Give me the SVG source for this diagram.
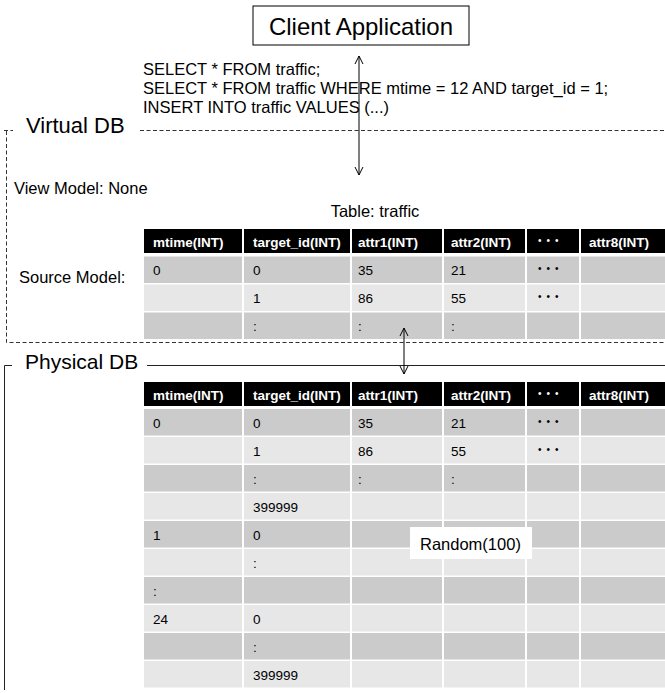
<svg xmlns="http://www.w3.org/2000/svg" width="665" height="693" viewBox="0 0 665 693">
  <defs>
    <marker id="open-head" viewBox="0 0 10 10" refX="9" refY="5" markerWidth="10" markerHeight="10" markerUnits="userSpaceOnUse" orient="auto-start-reverse">
      <path d="M1,1 L9,5 L1,9" fill="none" stroke="#000" stroke-width="1"/>
    </marker>
    <style>
      text { font-family: "Liberation Sans", Arial, sans-serif; fill: #000; }
      .title { font-size: 22px; }
      .label { font-size: 16.5px; }
      .hdr { font-size: 13.5px; font-weight: bold; fill: #fff; }
      .cell { font-size: 13.5px; }
      .dots { font-size: 10px; letter-spacing: 5px; }
      .dots-w { font-size: 10px; letter-spacing: 5px; fill: #fff; }
      .dash { fill: none; stroke: #333; stroke-width: 1; stroke-dasharray: 4 2.5; }
      .solid { fill: none; stroke: #222; stroke-width: 1; }
      .head { fill: #000; }
      .dark { fill: #cbcbcb; }
      .light { fill: #e7e7e7; }
      .sep { stroke: #fff; stroke-width: 2; }
      .conn { fill: none; stroke: #000; stroke-width: 1; marker-start: url(#open-head); marker-end: url(#open-head); }
    </style>
  </defs>

  <rect width="665" height="693" fill="#fff"/>

  <!-- client application box -->
  <g id="client-app">
    <rect x="253" y="6" width="216" height="39" fill="#fff" stroke="#000" stroke-width="1"/>
    <text x="361" y="35" font-size="24" text-anchor="middle">Client Application</text>
  </g>

  <!-- queries issued by the client -->
  <g id="queries">
    <text class="label" x="143" y="75">SELECT * FROM traffic;</text>
    <text class="label" x="143" y="94">SELECT * FROM traffic WHERE mtime = 12 AND target_id = 1;</text>
    <text class="label" x="143" y="113">INSERT INTO traffic VALUES (...)</text>
  </g>

  <!-- virtual database frame -->
  <g id="virtual-db">
    <text class="title" x="26" y="133">Virtual DB</text>
    <path class="dash" d="M4,130.5 H13 M140,130.5 H665 M6.5,131 V342.5 H665"/>
    <text class="label" x="14" y="194">View Model: None</text>
    <text class="label" x="375" y="217" text-anchor="middle">Table: traffic</text>
    <text class="label" x="19" y="283">Source Model:</text>
  </g>

  <!-- source model table -->
  <g id="source-table">
    <rect class="head" x="144" y="229" width="521" height="24"/>
    <rect class="dark" x="144" y="256.5" width="521" height="26.5"/>
    <rect class="light" x="144" y="284.5" width="521" height="26.5"/>
    <rect class="dark" x="144" y="312.5" width="521" height="26.5"/>
    <path class="sep" d="M243,229 V339 M351,229 V339 M443,229 V339 M526,229 V339 M580,229 V339"/>
    <text class="hdr" x="153" y="246.5">mtime(INT)</text>
    <text class="hdr" x="253" y="246.5">target_id(INT)</text>
    <text class="hdr" x="358" y="246.5">attr1(INT)</text>
    <text class="hdr" x="451" y="246.5">attr2(INT)</text>
    <text class="dots-w" x="538" y="244">•••</text>
    <text class="hdr" x="589" y="246.5">attr8(INT)</text>

    <text class="cell" x="153" y="275">0</text>
    <text class="cell" x="253" y="275">0</text>
    <text class="cell" x="358" y="275">35</text>
    <text class="cell" x="451" y="275">21</text>
    <text class="dots" x="538" y="272">•••</text>

    <text class="cell" x="253" y="303">1</text>
    <text class="cell" x="358" y="303">86</text>
    <text class="cell" x="451" y="303">55</text>
    <text class="dots" x="538" y="300">•••</text>

    <text class="cell" x="253" y="331">:</text>
    <text class="cell" x="358" y="331">:</text>
    <text class="cell" x="451" y="331">:</text>
  </g>

  <!-- physical database frame -->
  <g id="physical-db">
    <text x="25" y="369" font-size="21">Physical DB</text>
    <path class="solid" d="M12,365.5 H4.5 V690 M147,365.5 H665"/>
  </g>

  <!-- physical storage table -->
  <g id="physical-table">
    <rect class="head" x="144" y="382" width="521" height="24"/>
    <rect class="dark" x="144" y="409" width="521" height="26.5"/>
    <rect class="light" x="144" y="437" width="521" height="26.5"/>
    <rect class="dark" x="144" y="465" width="521" height="26.5"/>
    <rect class="light" x="144" y="493" width="521" height="26.5"/>
    <rect class="dark" x="144" y="521" width="521" height="26.5"/>
    <rect class="light" x="144" y="549" width="521" height="26.5"/>
    <rect class="dark" x="144" y="577" width="521" height="26.5"/>
    <rect class="light" x="144" y="605" width="521" height="26.5"/>
    <rect class="dark" x="144" y="633" width="521" height="26.5"/>
    <rect class="light" x="144" y="661" width="521" height="26.5"/>
    <path class="sep" d="M243,382 V688 M351,382 V688 M443,382 V688 M526,382 V688 M580,382 V688"/>
    <text class="hdr" x="153" y="399.5">mtime(INT)</text>
    <text class="hdr" x="253" y="399.5">target_id(INT)</text>
    <text class="hdr" x="358" y="399.5">attr1(INT)</text>
    <text class="hdr" x="451" y="399.5">attr2(INT)</text>
    <text class="dots-w" x="538" y="397">•••</text>
    <text class="hdr" x="589" y="399.5">attr8(INT)</text>

    <text class="cell" x="153" y="427.5">0</text>
    <text class="cell" x="253" y="427.5">0</text>
    <text class="cell" x="358" y="427.5">35</text>
    <text class="cell" x="451" y="427.5">21</text>
    <text class="dots" x="538" y="424.5">•••</text>

    <text class="cell" x="253" y="455.5">1</text>
    <text class="cell" x="358" y="455.5">86</text>
    <text class="cell" x="451" y="455.5">55</text>
    <text class="dots" x="538" y="452.5">•••</text>

    <text class="cell" x="253" y="483.5">:</text>
    <text class="cell" x="358" y="483.5">:</text>
    <text class="cell" x="451" y="483.5">:</text>

    <text class="cell" x="253" y="511.5">399999</text>

    <text class="cell" x="153" y="539.5">1</text>
    <text class="cell" x="253" y="539.5">0</text>

    <text class="cell" x="253" y="567.5">:</text>

    <text class="cell" x="153" y="595.5">:</text>

    <text class="cell" x="153" y="623.5">24</text>
    <text class="cell" x="253" y="623.5">0</text>

    <text class="cell" x="253" y="651.5">:</text>

    <text class="cell" x="253" y="679.5">399999</text>
  </g>

  <!-- value generator label -->
  <g id="random-label">
    <rect x="410" y="527" width="122" height="32" fill="#fff"/>
    <text class="label" x="420" y="550">Random(100)</text>
  </g>

  <!-- request / data flow arrows -->
  <g id="connectors">
    <line class="conn" x1="359" y1="56" x2="359" y2="175"/>
    <line class="conn" x1="404" y1="328" x2="404" y2="374"/>
  </g>
</svg>
